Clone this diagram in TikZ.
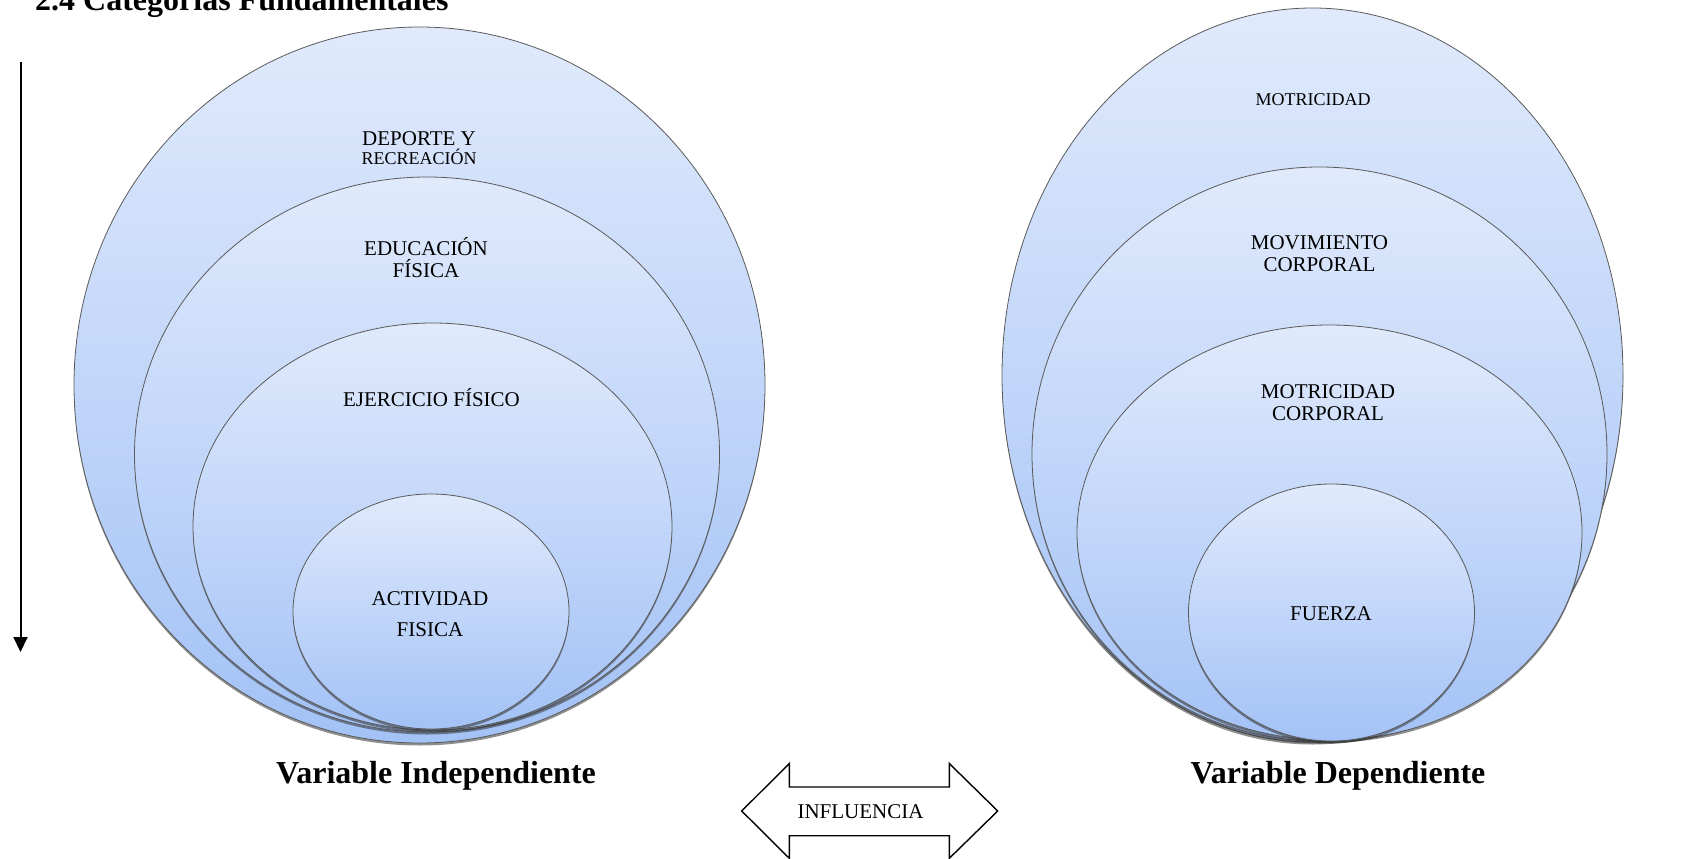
\documentclass[tikz,border=0pt]{standalone}
\usepackage{fontspec}
\setmainfont{Liberation Serif}
\usetikzlibrary{shapes.geometric,shadows,arrows.meta}
\definecolor{topc}{RGB}{224,234,252}
\definecolor{botc}{RGB}{163,194,246}
\definecolor{edgec}{RGB}{90,90,90}
\begin{document}
\begin{tikzpicture}[x=1pt,y=-1pt,
  oval/.style={ellipse, draw=edgec, line width=0.8pt, top color=topc, bottom color=botc,
    inner sep=0pt, outer sep=0pt,
    drop shadow={shadow xshift=0pt, shadow yshift=-2.5pt, opacity=0.55, fill=black!80}},
  lbl/.style={font=\fontsize{21}{22}\selectfont, align=center, inner sep=0pt, anchor=base},
  lblsmall/.style={font=\fontsize{18}{19}\selectfont, align=center, inner sep=0pt, anchor=base},
  varlbl/.style={font=\bfseries\fontsize{32}{36}\selectfont, inner sep=0pt, anchor=base}]
\useasboundingbox (0,0) rectangle (1700,859);

% title
\node[font=\bfseries\fontsize{32}{36}\selectfont, inner sep=0pt, anchor=base west] (title) at (35,11) {2.4 Categorías Fundamentales};

% vertical arrow
\coordinate (vtop) at (20.5,62);
\coordinate (vbot) at (20.5,652);
\draw[line width=2pt, -{Triangle[length=15pt,width=14pt]}] (vtop) -- (vbot);

% left group
\node[oval, minimum width=691pt, minimum height=716pt] (e1) at (419.5,385) {};
\node[oval, minimum width=585pt, minimum height=555pt] (e2) at (427,454.5) {};
\node[oval, minimum width=479pt, minimum height=407pt] (e3) at (432.5,526.5) {};
\node[oval, minimum width=276pt, minimum height=235pt] (e4) at (431,611.5) {};

\node[lbl, font=\fontsize{21}{19}\selectfont] (t1) at (419,164) {DEPORTE Y\\{\fontsize{18}{19}\selectfont RECREACIÓN}};
\node[lbl] (t2) at (426,277) {EDUCACIÓN\\FÍSICA};
\node[lbl] (t3) at (431.5,406) {EJERCICIO FÍSICO};
\node[lbl, font=\fontsize{21}{31}\selectfont] (t4) at (430,636) {ACTIVIDAD\\FISICA};

% right group
\node[oval, minimum width=621pt, minimum height=734pt] (r1) at (1312.5,375) {};
\node[oval, minimum width=575pt, minimum height=574pt] (r2) at (1319.5,454) {};
\node[oval, minimum width=505pt, minimum height=415pt] (r3) at (1329.5,532.5) {};
\node[oval, minimum width=286pt, minimum height=257pt] (r4) at (1331.5,612.5) {};

\node[lblsmall] (s1) at (1313,106) {MOTRICIDAD};
\node[lbl] (s2) at (1319.5,271) {MOVIMIENTO\\CORPORAL};
\node[lbl] (s3) at (1328,420) {MOTRICIDAD\\CORPORAL};
\node[lbl] (s4) at (1331,620) {FUERZA};

% variable labels
\node[varlbl] (vi) at (436,783) {Variable Independiente};
\node[varlbl] (vd) at (1338,783) {Variable Dependiente};

% double arrow
\draw[line width=1.4pt, line join=miter, fill=white]
  (741.7,811) -- (789.3,763.5) -- (789.3,787) -- (949.3,787) -- (949.3,763.5)
  -- (997.7,811) -- (949.3,858.3) -- (949.3,835.7) -- (789.3,835.7) -- (789.3,858.3) -- cycle;
\node[lbl] (infl) at (860.5,818) {INFLUENCIA};
\end{tikzpicture}
\end{document}
